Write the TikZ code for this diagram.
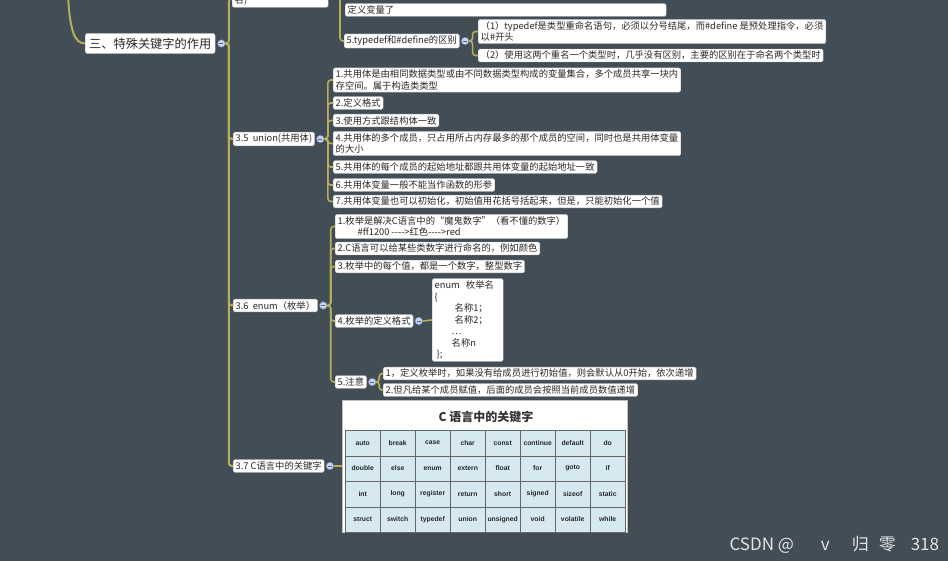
\documentclass[tikz,border=0pt]{standalone}
\usepackage{fontspec}
\setmainfont{Noto Sans CJK SC}
\newfontfamily\cellfam{Liberation Sans}
\usetikzlibrary{positioning}
\definecolor{cbg}{RGB}{66,77,86}
\definecolor{cbranch}{RGB}{182,175,88}
\definecolor{cknob}{RGB}{198,214,242}
\definecolor{cknobline}{RGB}{120,140,180}
\definecolor{ccell}{RGB}{214,233,241}
\definecolor{ctext}{RGB}{40,40,40}
\newcommand\topicfont{\fontsize{9.3}{11.5}\selectfont}
\newcommand\cellfont{\cellfam\bfseries\fontsize{6.8}{7.5}\selectfont}
\tikzset{xmap/.style={x=1pt,y=-1pt},
  topic/.style={draw=black!30, fill=white, rounded corners=1.5pt, inner xsep=2.5pt, inner ysep=2pt,
    anchor=west, text=ctext, font=\topicfont, align=left},
  branch/.style={draw=cbranch, line width=1.6pt, rounded corners=3pt},
  knob/.style={circle, minimum size=7.5pt, inner sep=0pt, fill=cknob, draw=cknobline, line width=.5pt,
    path picture={\draw[cknobline!70!black, line width=.7pt]
      ([xshift=-2pt]path picture bounding box.center) -- ([xshift=2pt]path picture bounding box.center);}},
  kwcell/.style={anchor=north west, minimum width=35pt, minimum height=25.5pt, inner sep=0pt,
    draw=black!60, fill=ccell, text=black!85, font=\cellfont}}

\begin{document}
\begin{tikzpicture}[xmap]
    \useasboundingbox (0,0) rectangle (948,561);
    \clip (0,0) rectangle (948,561);
    \fill[cbg] (0,0) rectangle (948,561);
    % main topic
    \node[topic, font=\fontsize{12.2}{14}\selectfont, inner xsep=4pt, inner ysep=4.5pt, rounded corners=2.5pt] (main) at (85,43.5) {三、特殊关键字的作用};
    \node[knob, right=2pt of main] (c-main) {};
    \coordinate (root-in) at (68,-4);
    \draw[branch, line width=2pt] (root-in) .. controls (70,32) and (75,43.5) .. (main.west);
    % cut off at the top
    \node[topic, anchor=south west, text width=91pt] (n-ming) at (232,7.5) {\mbox{}\\名)};
    \node[topic, anchor=south west, text width=316pt] (n-dingyi) at (345,16.5) {定义变量了};
    \coordinate (td-up) at (340,-4);
    \node[topic] (n-typedef) at (344,41) {5.typedef和\#define的区别};
    \node[knob, right=1.5pt of n-typedef] (c-typedef) {};
    \node[topic] (td1) at (478,31.5) {（1）typedef是类型重命名语句，必须以分号结尾，而\#define 是预处理指令，必须\\以\#开头};
    \node[topic] (td2) at (478,55.5) {（2）使用这两个重名一个类型时，几乎没有区别，主要的区别在于命名两个类型时};
    \draw[branch] (td-up) |- (n-typedef.west);
    \foreach \k in {td1,td2} \draw[branch] (c-typedef.east) -- ++(3.5,0) |- (\k.west);
    % 3.5 union
    \node[topic] (n35) at (233,139) {3.5\ \ union(共用体)};
    \node[knob, right=1.5pt of n35] (c35) {};
    \node[topic] (u1) at (333,80) {1.共用体是由相同数据类型或由不同数据类型构成的变量集合，多个成员共享一块内\\存空间。属于构造类类型};
    \node[topic] (u2) at (333,103) {2.定义格式};
    \node[topic] (u3) at (333,120.5) {3.使用方式跟结构体一致};
    \node[topic] (u4) at (333,143.5) {4.共用体的多个成员，只占用所占内存最多的那个成员的空间，同时也是共用体变量\\的大小};
    \node[topic] (u5) at (333,167) {5.共用体的每个成员的起始地址都跟共用体变量的起始地址一致};
    \node[topic] (u6) at (333,185) {6.共用体变量一般不能当作函数的形参};
    \node[topic] (u7) at (333,201.5) {7.共用体变量也可以初始化，初始值用花括号括起来，但是，只能初始化一个值};
    \foreach \k in {1,...,7} \draw[branch] (c35.east) -- ++(3.5,0) |- (u\k.west);
    % 3.6 enum
    \node[topic] (n36) at (233,305.5) {3.6\ \ enum（枚举）};
    \node[knob, right=1.5pt of n36] (c36) {};
    \node[topic] (e1) at (335,226.5) {1.枚举是解决C语言中的“魔鬼数字”（看不懂的数字）\\\hspace*{20pt}\#ff1200 -{}-{}-{}-{}>红色-{}-{}-{}-{}>red};
    \node[topic] (e2) at (335,248.5) {2.C语言可以给某些类数字进行命名的，例如颜色};
    \node[topic] (e3) at (335,266.5) {3.枚举中的每个值，都是一个数字，整型数字};
    \node[topic] (e4) at (335,321) {4.枚举的定义格式};
    \node[topic] (e5) at (335,382) {5.注意};
    \node[knob, right=1.5pt of e4] (c-e4) {};
    \node[knob, right=1.5pt of e5] (c-e5) {};
    \node[topic, text width=66pt] (e4-box) at (432,320) {enum\ \ 枚举名\\\{\\\hspace*{20pt}名称1；\\\hspace*{20pt}名称2；\\\hspace*{17pt}…\\\hspace*{17pt}名称n\\\hspace*{2pt}\};};
    \node[topic] (e5a) at (383,373.5) {1，定义枚举时，如果没有给成员进行初始值，则会默认从0开始，依次递增};
    \node[topic] (e5b) at (383,390) {2.但凡给某个成员赋值，后面的成员会按照当前成员数值递增};
    \foreach \k in {e1,e2,e3,e4,e5} \draw[branch] (c36.east) -- ++(3.5,0) |- (\k.west);
    \draw[branch] (c-e4.east) -- (e4-box.west);
    \foreach \k in {e5a,e5b} \draw[branch] (c-e5.east) -- ++(3,0) |- (\k.west);
    % 3.7 keyword table
    \node[draw=black!25, fill=white, minimum width=285pt, minimum height=132pt, inner sep=0pt, anchor=west] (kw) at (342,466) {};
    \node[font=\bfseries\fontsize{12}{14}\selectfont, text=black!80] (kw-title) at (486,417) {C 语言中的关键字};
    \foreach \row [count=\r] in {{auto,break,case,char,const,continue,default,do},
        {double,else,enum,extern,float,for,goto,if},
        {int,long,register,return,short,signed,sizeof,static},
        {struct,switch,typedef,union,unsigned,void,volatile,while}}
      \foreach \w [count=\c] in \row
        \node[kwcell] (cell-\r-\c) at ({345+35*(\c-1)},{430+25.5*(\r-1)}) {\w};
    \node[topic] (n37) at (233,466) {3.7 C语言中的关键字};
    \node[knob, right=1.5pt of n37] (c37) {};
    \draw[branch] (c37.east) -- (kw.west);
    % main trunk
    \foreach \k in {n-ming,n35,n36,n37} \draw[branch, line width=2pt] (c-main.east) -- ++(3.5,0) |- (\k.west);
    % watermark
    \node[anchor=west, text=white!85!cbg, font=\fontsize{17}{19}\selectfont] (wm) at (726,545) {CSDN @\hspace{27pt}v\hspace{22pt}归\hspace{10pt}零\hspace{15pt}318};
\end{tikzpicture}
\end{document}
